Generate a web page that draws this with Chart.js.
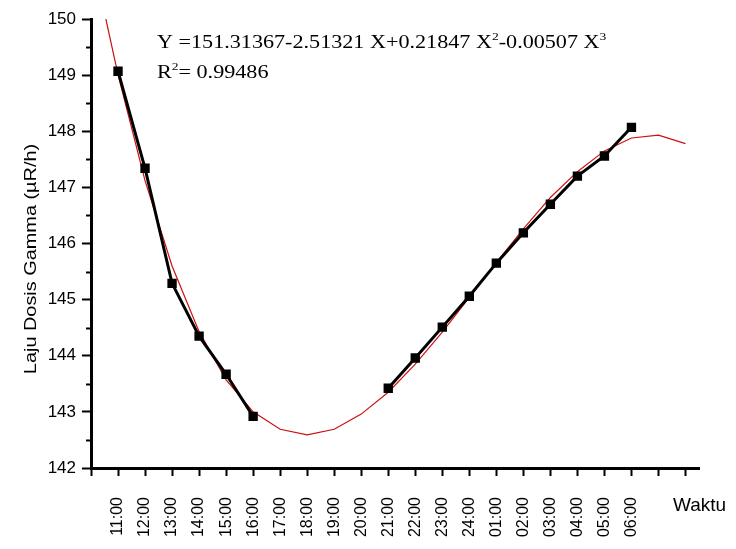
<!DOCTYPE html>
<html>
<head>
<meta charset="utf-8">
<script src="https://cdn.jsdelivr.net/npm/chart.js@4.4.1/dist/chart.umd.min.js"></script>
<style>
  html, body { margin: 0; padding: 0; background: #fff; }
  #wrap { width: 736px; height: 549px; }
</style>
</head>
<body>
<div id="wrap"><canvas id="c" width="736" height="549"></canvas></div>
<script>
// hour labels, one per x position 1..20
var HOURS = ['11:00', '12:00', '13:00', '14:00', '15:00', '16:00', '17:00', '18:00', '19:00', '20:00',
             '21:00', '22:00', '23:00', '24:00', '01:00', '02:00', '03:00', '04:00', '05:00', '06:00'];

// measured dose rate (black squares), gaps where no reading
var MEASURED = [149.07, 147.34, 145.29, 144.35, 143.67, 142.92, null, null, null, null,
                143.42, 143.96, 144.51, 145.06, 145.65, 146.19, 146.70, 147.20, 147.56, 148.07];

// fitted curve (red)
var FIT_X = [0.55, 1, 2, 3, 4, 5, 6, 7, 8, 9, 10, 11, 12, 13, 14, 15, 16, 17, 18, 19, 20, 21, 22];
var FIT_Y = [150.0, 149.01, 147.12, 145.60, 144.43, 143.57, 143.00, 142.69, 142.59, 142.69, 142.96,
             143.35, 143.85, 144.42, 145.04, 145.66, 146.26, 146.82, 147.28, 147.65, 147.88, 147.93, 147.78];

var Y_TICKS = [142, 143, 144, 145, 146, 147, 148, 149, 150];

var measuredPts = MEASURED.map(function (y, i) { return { x: i + 1, y: y }; });
var fitPts = FIT_X.map(function (x, i) { return { x: x, y: FIT_Y[i] }; });

// half-unit minor ticks on the y axis
var minorTicks = {
  id: 'minorTicks',
  afterDraw: function (chart) {
    var ctx = chart.ctx, y = chart.scales.y, left = chart.chartArea.left;
    ctx.save();
    ctx.strokeStyle = '#000';
    ctx.lineWidth = 2;
    for (var i = 0; i < Y_TICKS.length - 1; i++) {
      var py = Math.round(y.getPixelForValue(Y_TICKS[i] + 0.5)) + 0.5;
      ctx.beginPath();
      ctx.moveTo(left - 5, py);
      ctx.lineTo(left, py);
      ctx.stroke();
    }
    ctx.restore();
  }
};

// stretched text pieces, sup = superscript
function drawPieces(ctx, x, y, pieces, size, sx) {
  ctx.save();
  ctx.translate(x, y);
  ctx.scale(sx, 1);
  var cx = 0;
  pieces.forEach(function (p) {
    if (p.sup) {
      ctx.font = Math.round(size * 0.6) + 'px "Liberation Serif"';
      ctx.fillText(p.t, cx, -size * 0.42);
    } else {
      ctx.font = size + 'px "Liberation Serif"';
      ctx.fillText(p.t, cx, 0);
    }
    cx += ctx.measureText(p.t).width;
  });
  ctx.restore();
}

var annotations = {
  id: 'annotations',
  afterDraw: function (chart) {
    var ctx = chart.ctx;
    ctx.save();
    ctx.fillStyle = '#000';
    ctx.textBaseline = 'alphabetic';
    ctx.textAlign = 'left';
    drawPieces(ctx, 157, 48, [
      { t: 'Y =151.31367-2.51321 X+0.21847 X' }, { t: '2', sup: true },
      { t: '-0.00507 X' }, { t: '3', sup: true }
    ], 18, 1.23);
    drawPieces(ctx, 157, 78, [
      { t: 'R' }, { t: '2', sup: true }, { t: '= 0.99486' }
    ], 18, 1.23);

    ctx.font = '19px "Liberation Sans"';
    ctx.textBaseline = 'middle';
    ctx.fillText('Waktu', 673, 506);

    ctx.translate(31, 259);
    ctx.rotate(-Math.PI / 2);
    ctx.scale(1.17, 1);
    ctx.font = '17px "Liberation Sans"';
    ctx.textAlign = 'center';
    ctx.fillText('Laju Dosis Gamma (\u00b5R/h)', 0, 0);
    ctx.restore();
  }
};

new Chart(document.getElementById('c'), {
  type: 'line',
  data: {
    datasets: [
      {
        label: 'Data',
        data: measuredPts,
        borderColor: '#000',
        backgroundColor: '#000',
        borderWidth: 3,
        pointStyle: 'rect',
        pointRadius: 4.5,
        spanGaps: false,
        tension: 0,
        order: 0
      },
      {
        label: 'Fit',
        data: fitPts,
        borderColor: '#cc1010',
        borderWidth: 1.2,
        pointRadius: 0,
        tension: 0,
        order: 1
      }
    ]
  },
  options: {
    responsive: false,
    animation: false,
    events: [],
    layout: { padding: { top: 19, right: 37, left: 0, bottom: 0 } },
    plugins: { legend: { display: false }, tooltip: { enabled: false } },
    scales: {
      x: {
        type: 'linear',
        min: 0,
        max: 22.5,
        afterFit: function (s) { s.height = 81; },
        border: { display: true, color: '#000', width: 3 },
        grid: { drawOnChartArea: false, drawTicks: true, tickLength: 8, tickWidth: 2, tickColor: '#000' },
        ticks: {
          stepSize: 1,
          includeBounds: false,
          autoSkip: false,
          minRotation: 90,
          maxRotation: 90,
          padding: 21,
          color: '#000',
          font: { family: 'Liberation Sans', size: 16 },
          callback: function (v) {
            return (v >= 1 && v <= HOURS.length) ? HOURS[v - 1] : '';
          }
        }
      },
      y: {
        type: 'linear',
        min: 142,
        max: 150,
        afterFit: function (s) { s.width = 91; },
        border: { display: true, color: '#000', width: 3 },
        grid: { drawOnChartArea: false, drawTicks: true, tickLength: 9, tickWidth: 2, tickColor: '#000' },
        ticks: {
          stepSize: 1,
          padding: 6,
          color: '#000',
          font: { family: 'Liberation Sans', size: 17 }
        }
      }
    }
  },
  plugins: [minorTicks, annotations]
});
</script>
</body>
</html>
